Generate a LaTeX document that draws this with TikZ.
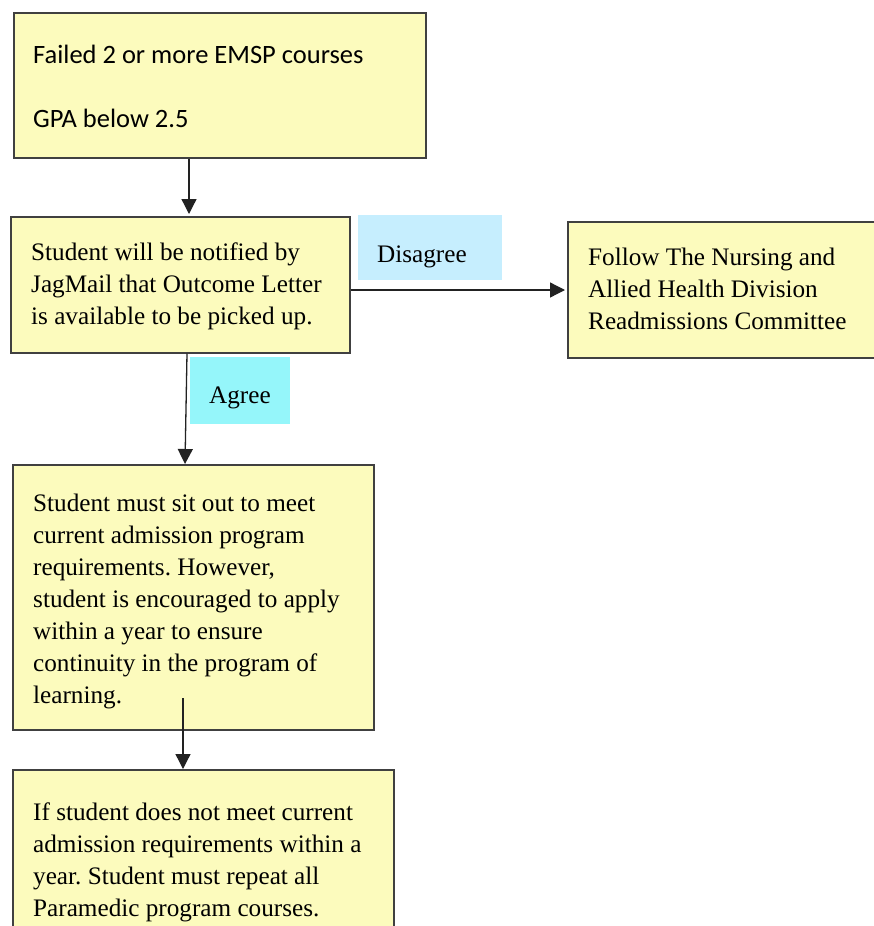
\documentclass[tikz,border=0pt]{standalone}
\usepackage{fontspec}
\setmainfont{Liberation Serif}
\newfontfamily\calfont{Carlito}
\usetikzlibrary{arrows.meta}
\frenchspacing
\definecolor{boxfill}{HTML}{FCFBBD}
\definecolor{boxline}{HTML}{404040}
\definecolor{disfill}{HTML}{C6EEFE}
\definecolor{agrfill}{HTML}{95F6FA}
\definecolor{arrcol}{HTML}{222222}
\newcommand{\mylines}[1]{\parbox[t]{420pt}{\raggedright\frenchspacing #1}}
\tikzset{
  flowbox/.style={draw=boxline, fill=boxfill, line width=1.5pt, inner sep=0pt, anchor=north west},
  lblbox/.style={inner sep=0pt, anchor=north west, draw=none},
  txt/.style={inner sep=0pt, anchor=base west, font=\fontsize{25.2}{32}\selectfont},
  caltxt/.style={inner sep=0pt, anchor=base west, font=\calfont\fontsize{26.5}{32}\selectfont},
  conn/.style={draw=arrcol, line width=1.3pt, -{Triangle[length=15pt,width=15pt]}},
}
\begin{document}
\begin{tikzpicture}[x=1pt,y=-1pt]
\clip (0,0) rectangle (874,926);
\fill[white] (0,0) rectangle (874,926);
% boxes
\node[flowbox, minimum width=412pt, minimum height=145pt] (b1) at (13,12) {};
\node[flowbox, minimum width=339pt, minimum height=136pt] (b2) at (10,216) {};
\node[flowbox, minimum width=330pt, minimum height=136pt] (b3) at (567,221) {};
\node[flowbox, minimum width=361pt, minimum height=265pt] (b4) at (12,464) {};
\node[flowbox, minimum width=381pt, minimum height=180pt] (b5) at (12,769) {};
% labels
\node[lblbox, fill=disfill, minimum width=144pt, minimum height=65pt] (dis) at (358,215) {};
\node[lblbox, fill=agrfill, minimum width=100pt, minimum height=67pt] (agr) at (190,357) {};
\node[txt] (distext) at (377,262) {Disagree};
\node[txt] (agrtext) at (209,403) {Agree};
% texts
\node[caltxt] (t1) at (33,63) {\mylines{Failed 2 or more EMSP courses\\[32pt]GPA below 2.5}};
\node[txt] (t2) at (31,260) {\mylines{Student will be notified by\\JagMail that Outcome Letter\\is available to be picked up.}};
\node[txt] (t3) at (588,265) {\mylines{Follow The Nursing and\\Allied Health Division\\Readmissions Committee}};
\node[txt] (t4) at (33,511) {\mylines{Student must sit out to meet\\current admission program\\requirements. However,\\student is encouraged to apply\\within a year to ensure\\continuity in the program of\\learning.}};
\node[txt] (t5) at (33,820) {\mylines{If student does not meet current\\admission requirements within a\\year. Student must repeat all\\Paramedic program courses.}};
% connectors
\coordinate (c4) at (183,698);
\draw[conn] ([xshift=176pt]b1.south west) -- ([xshift=179pt,yshift=2pt]b2.north west);
\draw[conn] ([yshift=-74pt]b2.north east) -- ([yshift=-69pt,xshift=-2pt]b3.north west);
\draw[conn] ([xshift=177pt]b2.south west) -- ([xshift=173pt]b4.north west);
\draw[conn] (c4) -- ([xshift=171pt]b5.north west);
\end{tikzpicture}
\end{document}
